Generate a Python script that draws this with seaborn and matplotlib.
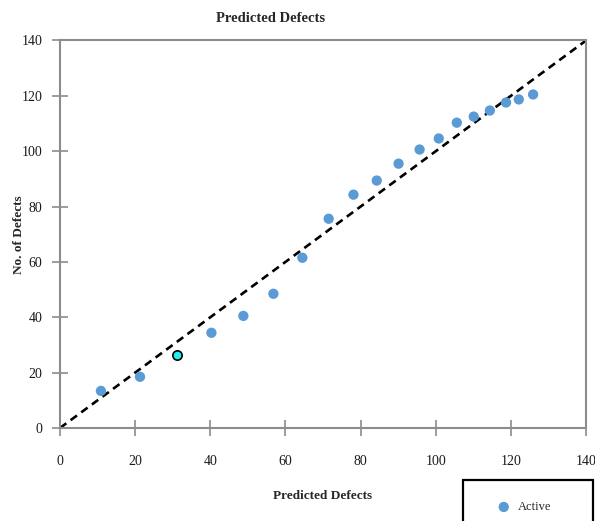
import pandas as pd
import matplotlib.pyplot as plt
import seaborn as sns
from matplotlib.patches import Rectangle

# values
predicted = [10.9, 21.3, 40.3, 48.8, 56.8, 64.5, 71.5, 78.1, 84.3, 90.1,
             95.7, 100.8, 105.6, 110.1, 114.4, 118.7, 122.1, 125.9]
actual = [13.4, 18.5, 34.4, 40.5, 48.5, 61.5, 75.6, 84.3, 89.4, 95.5,
          100.6, 104.6, 110.3, 112.5, 114.7, 117.6, 118.7, 120.5]
highlight_x = [31.2]
highlight_y = [26.4]
ref_line = [0, 140]
ticks = [0, 20, 40, 60, 80, 100, 120, 140]

sns.set_style("white")
plt.rcParams['font.family'] = ['Liberation Serif', 'DejaVu Serif']

df = pd.DataFrame({'Predicted': predicted, 'Actual': actual})

fig = plt.figure(figsize=(5.95, 5.21), dpi=100)
ax = fig.add_axes([0.1008, 0.1785, 0.8842, 0.7438])

sns.lineplot(x=ref_line, y=ref_line, ax=ax, color='black', linestyle=(0, (3, 2)),
             linewidth=1.9, zorder=2)
sns.scatterplot(data=df, x='Predicted', y='Actual', ax=ax, color='#5b9bd5', s=55,
                edgecolor='none', label='Active', zorder=3)
sns.scatterplot(x=highlight_x, y=highlight_y, ax=ax, color='#22f0f0', s=45,
                edgecolor='black', linewidth=1.2, zorder=4)

ax.set_xlim(0, 140)
ax.set_ylim(0, 140)
ax.set_xticks(ticks)
ax.set_yticks(ticks)
ax.tick_params(axis='both', bottom=True, left=True, direction='inout', length=11,
               width=1.2, color='#8c8c8c', labelsize=10, labelcolor='#1a1a1a')
ax.tick_params(axis='x', pad=14)
ax.tick_params(axis='y', pad=7)
for s in ax.spines.values():
    s.set_color('#8c8c8c')
    s.set_linewidth(1.5)

ax.set_xlabel('Predicted Defects', fontsize=9.5, fontweight='bold')
ax.set_ylabel('No. of Defects', fontsize=9.5, fontweight='bold')
ax.xaxis.set_label_coords(0.5, -0.16)
ax.yaxis.set_label_coords(-0.066, 0.5)
fig.text(0.454, 0.965, 'Predicted Defects', ha='center', va='center',
         fontsize=10.5, fontweight='bold')

# legend box partly cut off at the bottom edge
fig.patches.append(Rectangle((463 / 595, -0.05), 130 / 595, 0.05 + 41 / 521,
                             transform=fig.transFigure, fill=False,
                             edgecolor='black', linewidth=1.6))
ax.legend(loc='upper left', bbox_to_anchor=(480 / 595, 1 - 490 / 521),
          bbox_transform=fig.transFigure, frameon=False, fontsize=9,
          handletextpad=0.1, markerscale=1.0)

fig.savefig('out.png', dpi=100)
